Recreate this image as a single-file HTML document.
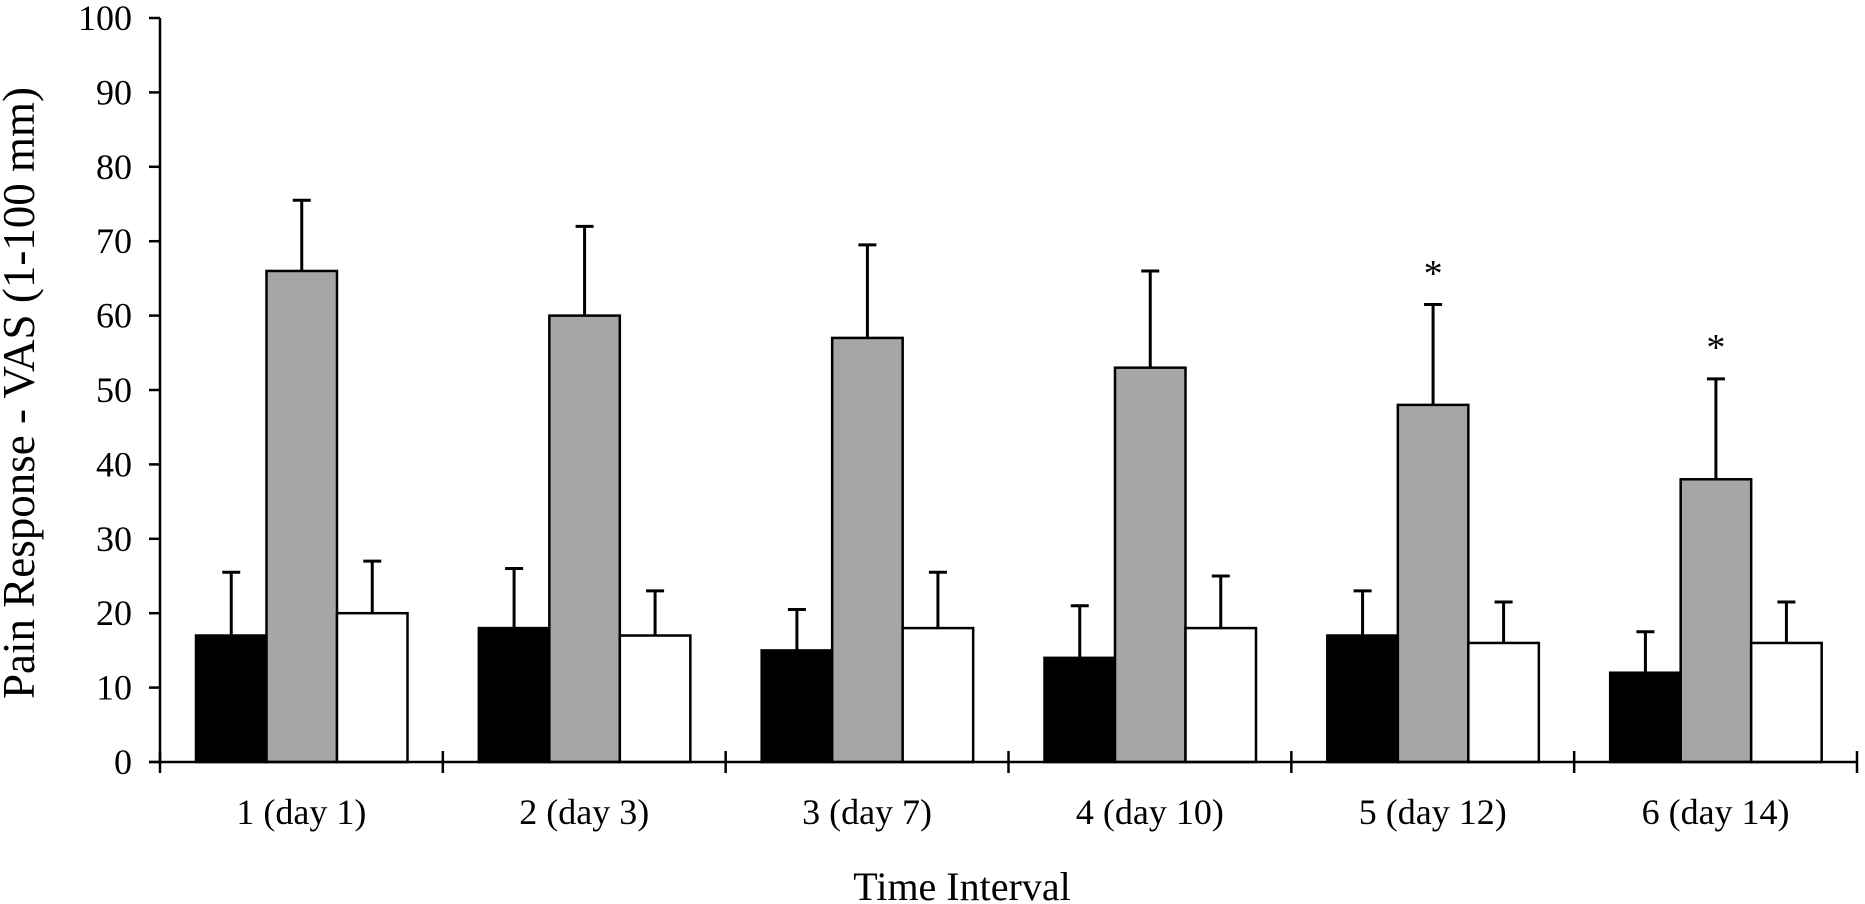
<!DOCTYPE html>
<html><head><meta charset="utf-8"><style>
html,body{margin:0;padding:0;background:#fff;}
svg{display:block;font-family:"Liberation Serif",serif;}
</style></head><body>
<svg id="chart" width="1865" height="904" viewBox="0 0 1865 904" xmlns="http://www.w3.org/2000/svg">
<g id="plot"></g>
<text x="0" y="0" transform="translate(34,393) rotate(-90)" text-anchor="middle" font-size="45">Pain Response - VAS (1-100 mm)</text>
<text x="962" y="900" text-anchor="middle" font-size="40">Time Interval</text>
</svg>
<script>
const categories = ["1 (day 1)","2 (day 3)","3 (day 7)","4 (day 10)","5 (day 12)","6 (day 14)"];
const blackValues = [17,18,15,14,17,12];
const blackErrTop = [25.5,26,20.5,21,23,17.5];
const grayValues = [66,60,57,53,48,38];
const grayErrTop = [75.5,72,69.5,66,61.5,51.5];
const whiteValues = [20,17,18,18,16,16];
const whiteErrTop = [27,23,25.5,25,21.5,21.5];
const significant = [false,false,false,false,true,true];
const yTicks = [0,10,20,30,40,50,60,70,80,90,100];

const NS="http://www.w3.org/2000/svg";
const g=document.getElementById('plot');
const X0=160,X1=1857,Y0=762,Y100=18;
const gw=(X1-X0)/categories.length;
const bw=70.5, off=36;
function y(v){return Y0-(Y0-Y100)*v/100;}
function gx(i){return X0+i*gw;}
function mk(tag,attrs){const e=document.createElementNS(NS,tag);for(const k in attrs)e.setAttribute(k,attrs[k]);g.appendChild(e);return e;}

const series=[[blackValues,blackErrTop,"#000","black"],[grayValues,grayErrTop,"#a6a6a6","gray"],[whiteValues,whiteErrTop,"#fff","white"]];
categories.forEach((c,i)=>{
  series.forEach((s,j)=>{
    const x=gx(i)+off+j*bw;
    const cx=x+bw/2;
    const el=mk('line',{x1:cx,x2:cx,y1:y(s[0][i]),y2:y(s[1][i]),stroke:"#000","stroke-width":3});
    
    
    const cap=mk('line',{x1:cx-9,x2:cx+9,y1:y(s[1][i]),y2:y(s[1][i]),stroke:"#000","stroke-width":3});
    
    
    const r=mk('rect',{x:x,y:y(s[0][i]),width:bw,height:Y0-y(s[0][i]),fill:s[2],stroke:"#000","stroke-width":2.5});
    
    
  });
  if(significant[i]){
    const t=mk('text',{x:gx(i)+off+1.5*bw,y:y(grayErrTop[i]+2.5),"text-anchor":"middle","font-size":38});
    t.textContent="*";
    
    
  }
  const lab=mk('text',{x:gx(i)+gw/2,y:824,"text-anchor":"middle","font-size":36});
  lab.textContent=c;
  
  
});
for(let i=0;i<=categories.length;i++){
  const t=mk('line',{x1:gx(i),x2:gx(i),y1:Y0-11,y2:Y0+11,stroke:"#000","stroke-width":2.5});
  
  
}
yTicks.forEach(v=>{
  const t=mk('line',{x1:X0-11,x2:X0,y1:y(v),y2:y(v),stroke:"#000","stroke-width":2.5});
  
  
  const l=mk('text',{x:X0-28,y:y(v)+12,"text-anchor":"end","font-size":36});
  l.textContent=v;
  
  
});
const ya=mk('line',{x1:X0,x2:X0,y1:Y100,y2:Y0,stroke:"#000","stroke-width":2.5});


const xa=mk('line',{x1:X0-11,x2:X1,y1:Y0,y2:Y0,stroke:"#000","stroke-width":2.5});


</script>
</body></html>
